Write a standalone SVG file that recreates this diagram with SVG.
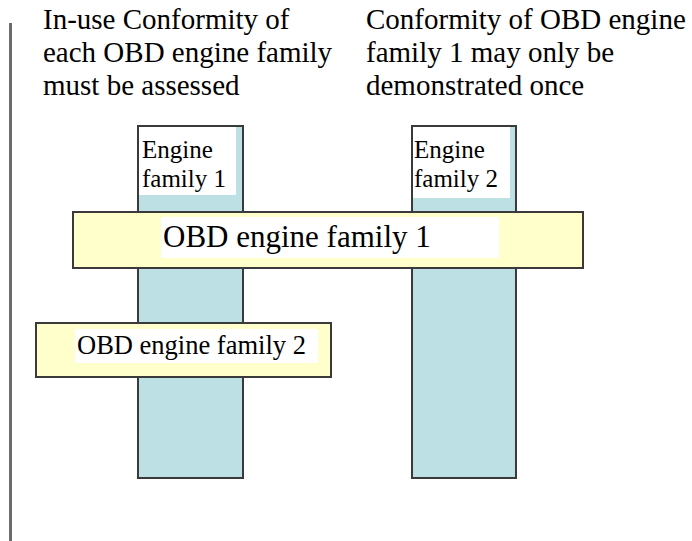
<svg xmlns="http://www.w3.org/2000/svg" width="692" height="541" viewBox="0 0 692 541">
<style>
text{font-family:'Liberation Serif','Times New Roman','DejaVu Serif',serif;fill:#000}
.col{fill:#BCE0E3;stroke:#3a3a3a;stroke-width:2}
.bar{fill:#FFFFCC;stroke:#3a3a3a;stroke-width:2}
.lbl{fill:#fff}
</style>
<rect width="692" height="541" fill="#fff"/>
<line x1="10.5" y1="23" x2="10.5" y2="541" stroke="#6b6b6b" stroke-width="3"/>
<g id="heading-left" font-size="29">
<text x="43" y="29">In-use Conformity of</text>
<text x="43" y="62">each OBD engine family</text>
<text x="43" y="95">must be assessed</text>
</g>
<g id="heading-right" font-size="29">
<text x="366" y="29">Conformity of OBD engine</text>
<text x="366" y="62">family 1 may only be</text>
<text x="366" y="95">demonstrated once</text>
</g>
<g id="engine-family-1">
<rect class="col" x="138" y="126" width="105" height="352"/>
<rect class="lbl" x="139" y="127" width="97" height="68"/>
<text font-size="25" x="142" y="158">Engine</text>
<text font-size="25" x="142" y="187">family 1</text>
</g>
<g id="engine-family-2">
<rect class="col" x="412" y="126" width="104" height="352"/>
<rect class="lbl" x="413" y="127" width="97" height="71"/>
<text font-size="25" x="414" y="158">Engine</text>
<text font-size="25" x="414" y="187">family 2</text>
</g>
<g id="obd-engine-family-1">
<rect class="bar" x="73" y="212" width="510" height="56"/>
<rect class="lbl" x="161" y="217" width="338" height="41"/>
<text font-size="31" x="163" y="247">OBD engine family 1</text>
</g>
<g id="obd-engine-family-2">
<rect class="bar" x="36" y="323" width="295" height="54"/>
<rect class="lbl" x="75" y="329" width="243" height="34"/>
<text font-size="26.5" x="77" y="354">OBD engine family 2</text>
</g>
<g id="connectors"></g>
</svg>
